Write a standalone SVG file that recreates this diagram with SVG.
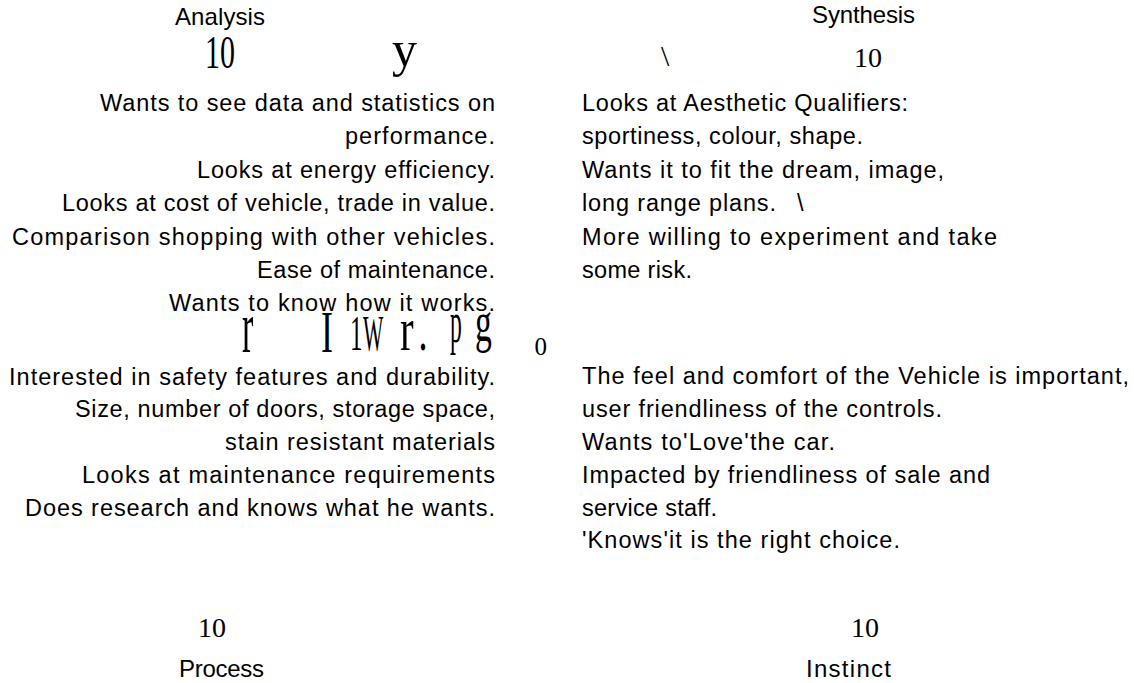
<svg xmlns="http://www.w3.org/2000/svg" width="1134" height="683" viewBox="0 0 1134 683">
<style>
.t{font-family:"Liberation Sans",Arial,sans-serif;font-size:23.5px;fill:#000}
.h{font-family:"Liberation Sans",Arial,sans-serif;font-size:24px;fill:#000}
.s{font-family:"Liberation Serif","Times New Roman",serif;fill:#000}
</style>
<rect width="1134" height="683" fill="#fff"/>
<g id="analysis-label">
<text class="h" x="175" y="25" textLength="90" lengthAdjust="spacing">Analysis</text>
<text class="s" x="205" y="68" font-size="46" textLength="30" lengthAdjust="spacingAndGlyphs">10</text>
<text class="s" x="392" y="66" font-size="50">y</text>
</g>
<g id="synthesis-label">
<text class="h" x="812" y="23" textLength="103" lengthAdjust="spacing">Synthesis</text>
<text class="s" x="661" y="66" font-size="30">\</text>
<text class="s" x="854" y="67" font-size="28">10</text>
</g>
<g id="analysis-upper">
<text class="t" x="100" y="111" textLength="395" lengthAdjust="spacing">Wants to see data and statistics on</text>
<text class="t" x="345" y="144" textLength="150" lengthAdjust="spacing">performance.</text>
<text class="t" x="197" y="178" textLength="298" lengthAdjust="spacing">Looks at energy efficiency.</text>
<text class="t" x="62" y="211" textLength="433" lengthAdjust="spacing">Looks at cost of vehicle, trade in value.</text>
<text class="t" x="12" y="245" textLength="483" lengthAdjust="spacing">Comparison shopping with other vehicles.</text>
<text class="t" x="257" y="278" textLength="238" lengthAdjust="spacing">Ease of maintenance.</text>
<text class="t" x="169" y="311" textLength="326" lengthAdjust="spacing">Wants to know how it works.</text>
</g>
<g id="synthesis-upper">
<text class="t" x="582" y="111" textLength="326" lengthAdjust="spacing">Looks at Aesthetic Qualifiers:</text>
<text class="t" x="582" y="144" textLength="281" lengthAdjust="spacing">sportiness, colour, shape.</text>
<text class="t" x="582" y="178" textLength="362" lengthAdjust="spacing">Wants it to fit the dream, image,</text>
<text class="t" y="211"><tspan x="582" textLength="194" lengthAdjust="spacing">long range plans.</tspan><tspan x="797">\</tspan></text>
<text class="t" x="582" y="245" textLength="415" lengthAdjust="spacing">More willing to experiment and take</text>
<text class="t" x="582" y="278" textLength="110" lengthAdjust="spacing">some risk.</text>
</g>
<g id="stray-glyphs">
<text class="s" font-size="74" transform="translate(242,352) scale(0.46,1)">r</text>
<text class="s" font-size="60" transform="translate(321,352) scale(0.6,1)">I</text>
<text class="s" font-size="50" transform="translate(350,350) scale(0.5,1)">1</text>
<text class="s" font-size="50" transform="translate(363,350) scale(0.43,1)">W</text>
<text class="s" font-size="61" transform="translate(400,350) scale(0.67,1)">r</text>
<text class="s" font-size="60" transform="translate(418.5,350) scale(0.6,1)">.</text>
<text class="s" font-size="59" transform="translate(450,342) scale(0.4,1)">p</text>
<text class="s" font-size="56" transform="translate(475,341) scale(0.6,1)">g</text>
<text class="s" font-size="25" x="534.5" y="355">0</text>
</g>
<g id="process-lower">
<text class="t" x="9" y="385" textLength="486" lengthAdjust="spacing">Interested in safety features and durability.</text>
<text class="t" x="75" y="417" textLength="420" lengthAdjust="spacing">Size, number of doors, storage space,</text>
<text class="t" x="225" y="450" textLength="270" lengthAdjust="spacing">stain resistant materials</text>
<text class="t" x="82" y="483" textLength="413" lengthAdjust="spacing">Looks at maintenance requirements</text>
<text class="t" x="25" y="516" textLength="470" lengthAdjust="spacing">Does research and knows what he wants.</text>
</g>
<g id="instinct-lower">
<text class="t" x="582" y="384" textLength="547" lengthAdjust="spacing">The feel and comfort of the Vehicle is important,</text>
<text class="t" x="582" y="417" textLength="360" lengthAdjust="spacing">user friendliness of the controls.</text>
<text class="t" x="582" y="450" textLength="253" lengthAdjust="spacing">Wants to'Love'the car.</text>
<text class="t" x="582" y="483" textLength="408" lengthAdjust="spacing">Impacted by friendliness of sale and</text>
<text class="t" x="582" y="516" textLength="135" lengthAdjust="spacing">service staff.</text>
<text class="t" x="582" y="548" textLength="318" lengthAdjust="spacing">'Knows'it is the right choice.</text>
</g>
<g id="process-label">
<text class="s" x="198" y="637" font-size="28">10</text>
<text class="h" x="179" y="677" textLength="85" lengthAdjust="spacing">Process</text>
</g>
<g id="instinct-label">
<text class="s" x="851" y="637" font-size="28">10</text>
<text class="h" x="806" y="677" textLength="85" lengthAdjust="spacing">Instinct</text>
</g>
</svg>
